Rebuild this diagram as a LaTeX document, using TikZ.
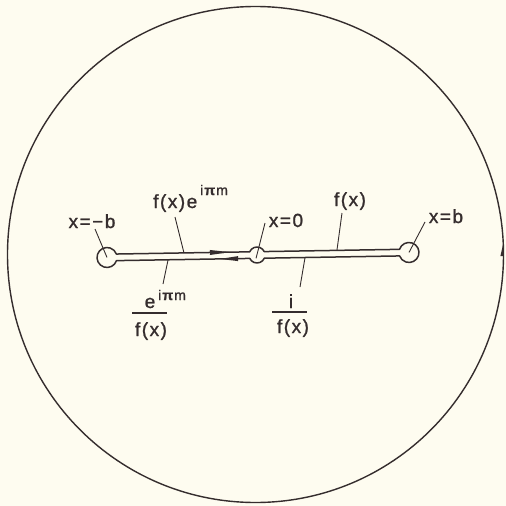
\documentclass[tikz,border=0pt]{standalone}
\usepackage{fontspec}
\setmainfont{Liberation Sans}[LetterSpace=8, FakeBold=1.2]
\definecolor{bgc}{HTML}{FEFCF0}
\definecolor{inkc}{HTML}{352D2E}
\begin{document}
\begin{tikzpicture}[x=1pt,y=-1pt,
  contour/.style={draw=inkc, line width=1.5pt, line join=round},
  ptr/.style={draw=inkc, line width=0.9pt},
  lbl/.style={inner sep=0pt, text=inkc, font=\fontsize{19}{22}\selectfont},
  suplbl/.style={inner sep=0pt, text=inkc, font=\fontsize{14}{16}\selectfont},
  fracbar/.style={draw=inkc, line width=1.3pt}]
\fill[bgc] (0,0) rectangle (506,506);
\useasboundingbox (0,0) rectangle (506,506);
% outer circle
\draw[inkc, line width=1.4pt] (255.5,254.5) circle[radius=248];
\fill[inkc] (503.4,243) -- (503.5,256) -- (500.4,256) -- cycle;
% keyhole contour
\begin{scope}[shift={(257,255)}, rotate=0.95]
  \draw[contour] (-140.56,-3.3) -- (-7.29,-3.3)
     arc[start angle=-155.64, end angle=-24.36, radius=8] -- (142.56,-3.3)
     arc[start angle=-160.73, end angle=160.73, radius=10] -- (7.29,3.3)
     arc[start angle=24.36, end angle=155.64, radius=8] -- (-140.56,3.3)
     arc[start angle=19.27, end angle=340.73, radius=10] -- cycle;
  \fill[inkc] (-27,-3.3) -- (-47,-5.8) -- (-47,-0.8) -- cycle;
  \fill[inkc] (-37,3.3) -- (-19,0.8) -- (-19,5.8) -- cycle;
  \coordinate (Lc) at (-150,0);
  \coordinate (Rc) at (152,0);
  \coordinate (Up1) at (-73,-3.3);
  \coordinate (Mid) at (-1,3.3);
  \coordinate (Up2) at (80,-3.3);
  \coordinate (Lo1) at (-89,3.3);
  \coordinate (Lo2) at (48,3.3);
\end{scope}
% pointer start points
\coordinate (Pxmb) at (95,229);
\coordinate (Pfe) at (175,217);
\coordinate (Px0) at (265,223);
\coordinate (Pfx) at (342,213);
\coordinate (Pxb) at (425,222);
\coordinate (Pf1) at (163,284);
\coordinate (Pf2) at (300,287);
\draw[ptr] (Pxmb) -- (Lc);
\draw[ptr] (Pfe) -- (Up1);
\draw[ptr] (Px0) -- (Mid);
\draw[ptr] (Pfx) -- (Up2);
\draw[ptr] (Pxb) -- (Rc);
\draw[ptr] (Pf1) -- (Lo1);
\draw[ptr] (Pf2) -- (Lo2);
% labels
\node[lbl, anchor=base] (lxmb) at (92,228) {x=−b};
\node[lbl, anchor=base west] (lfe) at (153,208) {f(x)e};
\node[suplbl, anchor=base west] (lfes) at (200,195) {i\textbf{π}m};
\node[lbl, anchor=base] (lx0) at (286,227) {x=0};
\node[lbl, anchor=base] (lfx) at (350,206) {f(x)};
\node[lbl, anchor=base] (lxb) at (446,223) {x=b};
% left fraction
\node[lbl, anchor=base] (ne) at (150,308) {e};
\node[suplbl, anchor=base west] (nes) at (158,300) {i\textbf{π}m};
\coordinate (B1a) at (132,313);
\coordinate (B1b) at (167,313);
\draw[fracbar] (B1a) -- (B1b);
\node[lbl, anchor=base] (den1) at (151,336) {f(x)};
% right fraction
\node[lbl, anchor=base] (ni) at (291,308) {i};
\coordinate (B2a) at (272,312);
\coordinate (B2b) at (307,312);
\draw[fracbar] (B2a) -- (B2b);
\node[lbl, anchor=base] (den2) at (293,333) {f(x)};
\end{tikzpicture}
\end{document}
